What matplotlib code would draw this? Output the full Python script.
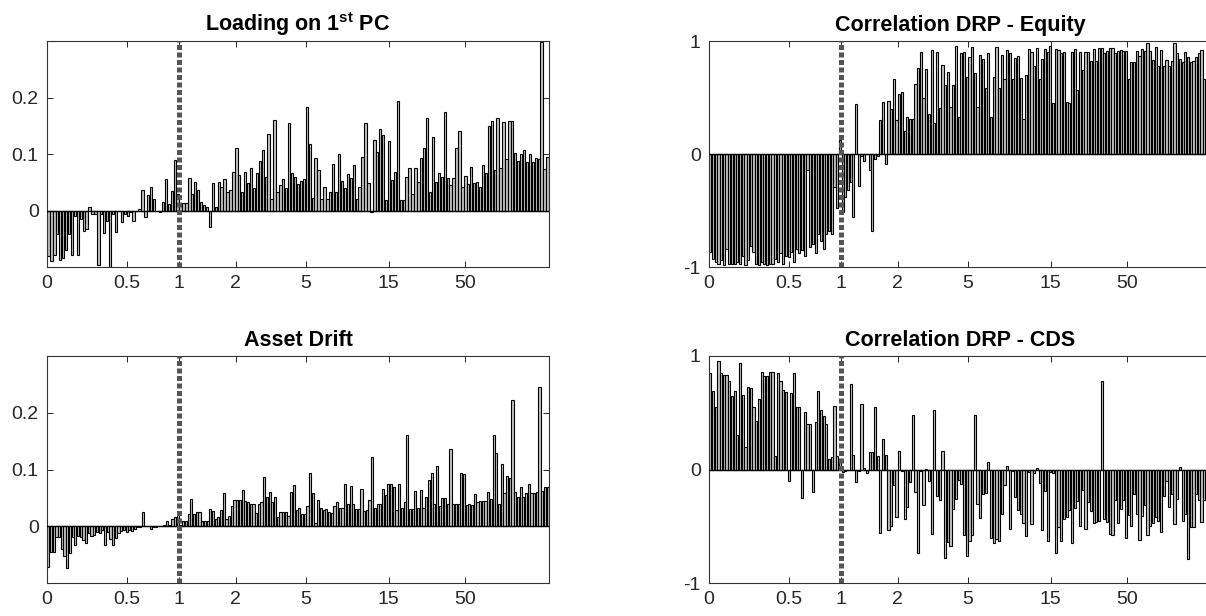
import matplotlib
matplotlib.use("Agg")
import matplotlib.pyplot as plt
import numpy as np

plt.rcParams['font.family'] = ['Liberation Sans', 'DejaVu Sans']
plt.rcParams['mathtext.fontset'] = 'custom'
plt.rcParams['mathtext.rm'] = 'Liberation Sans'
plt.rcParams['mathtext.bf'] = 'Liberation Sans:bold'

# ---------------- data ----------------
xtick_labels = ['0', '0.5', '1', '2', '5', '15', '50']
xtick_frac = [0.0, 0.159, 0.263, 0.376, 0.516, 0.681, 0.833]   # position along axis

loading_pc1 = [
    -0.081, -0.09, -0.078, -0.042, -0.087, -0.084, -0.07, -0.042, -0.078, -0.01,
    -0.078, -0.015, -0.036, -0.033, 0.006, -0.006, -0.006, -0.096, -0.006, -0.04,
    -0.018, -0.105, -0.006, -0.038, 0.0, -0.021, -0.006, -0.009, -0.003, -0.018,
    -0.001, 0.003, 0.037, -0.012, 0.027, 0.042, 0.021, -0.001, -0.003, 0.015,
    0.055, 0.012, 0.035, 0.089, 0.03, 0.013, 0.013, 0.013,
    0.057, 0.03, 0.051, 0.037, 0.015, 0.009, 0.006, -0.03, 0.048, 0.007,
    0.051, 0.042, 0.055, 0.033, 0.037, 0.069, 0.111, 0.063, 0.033, 0.069,
    0.048, 0.075, 0.039, 0.067, 0.087, 0.107, 0.059, 0.135, 0.021, 0.161,
    0.032, 0.045, 0.055, 0.039, 0.155, 0.066, 0.059, 0.047, 0.053, 0.055,
    0.183, 0.117, 0.023, 0.093, 0.071, 0.021, 0.041, 0.021, 0.033, 0.083,
    0.033, 0.1, 0.053, 0.039, 0.065, 0.057,
    0.081, 0.021, 0.041, 0.095, 0.155, 0.049, -0.003, 0.125, 0.104, 0.145,
    0.134, 0.018, 0.123, 0.054, 0.069, 0.194, 0.019, 0.019, 0.059, 0.075,
    0.029, 0.075, 0.051, 0.093, 0.111, 0.163, 0.033, 0.13, 0.051, 0.067,
    0.06, 0.175, 0.057, 0.045, 0.057, 0.11, 0.14, 0.042, 0.061, 0.047,
    0.077, 0.049, 0.051, 0.041, 0.081, 0.067, 0.149, 0.158, 0.071, 0.163,
    0.075, 0.157, 0.092, 0.158, 0.158, 0.101, 0.087, 0.1, 0.107, 0.086,
    0.1, 0.086, 0.093, 0.092, 0.298, 0.073, 0.095,
]

asset_drift = [
    -0.071, -0.046, -0.046, -0.019, -0.019, -0.04, -0.053, -0.074, -0.047, -0.019,
    -0.033, -0.018, -0.019, -0.024, -0.029, -0.012, -0.017, -0.015, -0.011, -0.012,
    -0.006, -0.033, -0.011, -0.023, -0.033, -0.021, -0.012, -0.008, -0.006, -0.011,
    -0.006, -0.008, -0.005, -0.002, -0.001, 0.025, 0.001, 0.001, -0.004, -0.001,
    -0.002, 0.001, 0.0, 0.002, 0.01, 0.002, 0.012, 0.017, 0.02, 0.002,
    0.009, 0.009,
    0.021, 0.048, 0.021, 0.025, 0.025, 0.01, 0.01, 0.01, 0.03, 0.027,
    0.013, 0.016, 0.029, 0.058, 0.013, 0.018, 0.035, 0.047, 0.047, 0.046,
    0.064, 0.044, 0.042, 0.039, 0.04, 0.023, 0.04, 0.043, 0.087, 0.051,
    0.061, 0.042, 0.051, 0.016, 0.025, 0.025, 0.025, 0.018, 0.061, 0.072,
    0.029, 0.033, 0.022, 0.022, 0.035, 0.094, 0.059, 0.005, 0.046, 0.032,
    0.029, 0.03, 0.025, 0.023, 0.035, 0.042, 0.033, 0.033, 0.074, 0.04,
    0.071, 0.039, 0.03, 0.03,
    0.065, 0.026, 0.029, 0.046, 0.122, 0.033, 0.04, 0.04, 0.065, 0.055,
    0.075, 0.075, 0.07, 0.029, 0.075, 0.033, 0.043, 0.16, 0.031, 0.031,
    0.062, 0.033, 0.064, 0.033, 0.052, 0.081, 0.094, 0.039, 0.106, 0.035,
    0.05, 0.049, 0.039, 0.137, 0.039, 0.039, 0.04, 0.093, 0.092, 0.037,
    0.04, 0.037, 0.056, 0.043, 0.044, 0.044, 0.044, 0.06, 0.048, 0.16,
    0.129, 0.04, 0.109, 0.058, 0.089, 0.085, 0.223, 0.06, 0.052, 0.07,
    0.052, 0.058, 0.074, 0.059, 0.059, 0.06, 0.245, 0.062, 0.07, 0.07,
]

corr_equity = [
    -0.87, -0.93, -0.96, -0.97, -0.94, -0.98, -0.84, -0.97, -0.97, -0.97,
    -0.96, -0.97, -0.9, -0.98, -0.94, -0.81, -0.87, -0.97, -0.98, -0.96,
    -0.97, -0.98, -0.97, -0.97, -0.93, -0.96, -0.88, -0.97, -0.9, -0.91,
    -0.87, -0.96, -0.84, -0.88, -0.85, -0.9, -0.14, -0.82, -0.8, -0.88,
    -0.71, -0.77, -0.84, -0.71, -0.68, -0.71, -0.29, -0.48, 0.125, -0.51,
    -0.38, -0.32, -0.25,
    -0.56, 0.445, -0.28, -0.02, -0.06, 0.0, -0.14, -0.68, -0.04, -0.02,
    0.30, 0.46, -0.09, 0.47, 0.40, 0.66, 0.30, 0.53, 0.55, 0.20,
    0.33, 0.31, 0.31, 0.62, 0.76, 0.90, 0.50, 0.75, 0.35, 0.92,
    0.27, 0.90, 0.41, 0.79, 0.61, 0.73, 0.42, 0.61, 0.96, 0.33,
    0.89, 0.90, 0.68, 0.86, 0.95, 0.72, 0.42, 0.88, 0.84, 0.58,
    0.89, 0.33, 0.68, 0.95, 0.58, 0.88, 0.66, 0.92, 0.89, 0.66,
    0.85, 0.87,
    0.67, 0.31, 0.70, 0.93, 0.90, 0.78, 0.94, 0.66, 0.84, 0.93,
    0.90, 0.96, 0.45, 0.93, 0.92, 0.89, 0.90, 0.46, 0.45, 0.90,
    0.93, 0.57, 0.90, 0.74, 0.90, 0.90, 0.82, 0.93, 0.82, 0.94,
    0.94, 0.89, 0.91, 0.94, 0.94, 0.89, 0.91, 0.92, 0.91, 0.91,
    0.66, 0.81, 0.81, 0.91, 0.87, 0.93, 0.91, 0.98, 0.91, 0.83,
    0.95, 0.78, 0.92, 0.78, 0.83, 0.78, 0.82, 0.98, 0.89, 0.84,
    0.81, 0.90, 0.86, 0.81, 0.82, 0.86, 0.89, 0.92, 0.66,
]

corr_cds = [
    0.85, 0.69, 0.55, 0.96, 0.85, 0.83, 0.83, 0.78, 0.65, 0.69,
    0.30, 0.94, 0.66, 0.20, 0.73, 0.72, 0.55, 0.43, 0.62, 0.86,
    0.82, 0.82, 0.86, 0.86, 0.12, 0.85, 0.78, 0.70, 0.68, -0.10,
    0.67, 0.85, 0.55, 0.55, -0.25, 0.51, 0.40, 0.40, -0.20, 0.42,
    0.69, 0.52, 0.47, 0.40, 0.09, 0.11, 0.56, 0.12, 0.09, -0.02,
    -0.01, 0.0,
    0.75, 0.13, -0.11, -0.01, 0.58, 0.01, -0.03, 0.15, 0.15, 0.55,
    0.12, -0.56, 0.27, 0.13, -0.53, -0.50, -0.14, -0.42, 0.16, -0.01,
    -0.44, -0.33, -0.11, 0.48, -0.20, -0.74, -0.01, -0.31, 0.006, -0.10,
    -0.57, 0.52, -0.23, -0.27, 0.16, -0.78, -0.64, -0.67, -0.35, -0.26,
    -0.09, -0.13, -0.58, -0.76, -0.63, -0.58, 0.48, -0.30, -0.43, -0.22,
    -0.21, 0.065, -0.60, -0.65, -0.61, -0.63, -0.39, -0.14, 0.03, -0.52,
    -0.01,
    -0.24, -0.36, -0.39, -0.47, -0.59, -0.02, -0.48, -0.03, 0.01, -0.12,
    -0.53, -0.19, -0.63, -0.02, -0.03, -0.74, -0.51, -0.63, -0.44, -0.42,
    -0.36, -0.65, -0.34, -0.28, -0.50, -0.18, -0.52, -0.29, -0.37, -0.47,
    -0.46, -0.45, 0.78, -0.44, -0.46, -0.57, -0.58, -0.27, -0.47, -0.35,
    -0.27, -0.60, -0.40, -0.50, -0.22, -0.39, -0.62, -0.41, -0.31, -0.58,
    -0.50, -0.47, -0.42, -0.45, -0.55, -0.23, -0.10, -0.33, -0.22, -0.48,
    -0.26, 0.02, -0.45, -0.39, -0.79, -0.51, -0.51, -0.22, -0.27, -0.46,
    -0.27,
]

# ---------------- figure ----------------
W, H = 1206, 616
fig = plt.figure(figsize=(W / 100, H / 100), dpi=100)

FACE = '#c2c2c2'
AXCOL = '#262626'


def px_rect(left, top, right, bottom):
    return [left / W, 1 - bottom / H, (right - left) / W, (bottom - top) / H]


def panel(rect, vals, ylim, yticks, ylabels, title, extra=0):
    ax = fig.add_axes(rect)
    n = len(vals)
    x = np.arange(1, n + 1)
    ax.bar(x, vals, width=0.8, color=FACE, edgecolor='black', linewidth=0.8, zorder=2)
    span = n + extra
    ax.set_xlim(0.5, 0.5 + span)
    ticks = 0.5 + np.array(xtick_frac) * span
    ax.set_xticks(ticks)
    ax.set_xticklabels(xtick_labels)
    ax.set_ylim(*ylim)
    ax.set_yticks(yticks)
    ax.set_yticklabels(ylabels)
    ax.axhline(0, color='black', lw=1.0, zorder=3)
    ax.axvline(ticks[2], color='#555555', lw=3.6, linestyle=(0, (1.0, 0.5)),
               dash_capstyle='butt', zorder=4)
    ax.tick_params(direction='in', length=4, width=0.7, colors=AXCOL,
                   labelsize=14, top=True, right=True, pad=6)
    for s in ax.spines.values():
        s.set_color('#333333')
        s.set_linewidth(0.8)
    ax.set_title(title, fontsize=15.5, fontweight='bold', pad=7, color='black')
    return ax


panel(px_rect(47, 41, 549, 267), loading_pc1, (-0.1, 0.3), [0, 0.1, 0.2],
      ['0', '0.1', '0.2'], r'Loading on 1$^{\mathbf{st}}$ PC')
panel(px_rect(47, 356, 549, 583), asset_drift, (-0.1, 0.3), [0, 0.1, 0.2],
      ['0', '0.1', '0.2'], 'Asset Drift')
panel(px_rect(709, 41, 1211, 267), corr_equity, (-1, 1), [-1, 0, 1],
      ['-1', '0', '1'], 'Correlation DRP - Equity', extra=2)
panel(px_rect(709, 356, 1211, 583), corr_cds, (-1, 1), [-1, 0, 1],
      ['-1', '0', '1'], 'Correlation DRP - CDS', extra=2)

fig.savefig('out.png', dpi=100)
